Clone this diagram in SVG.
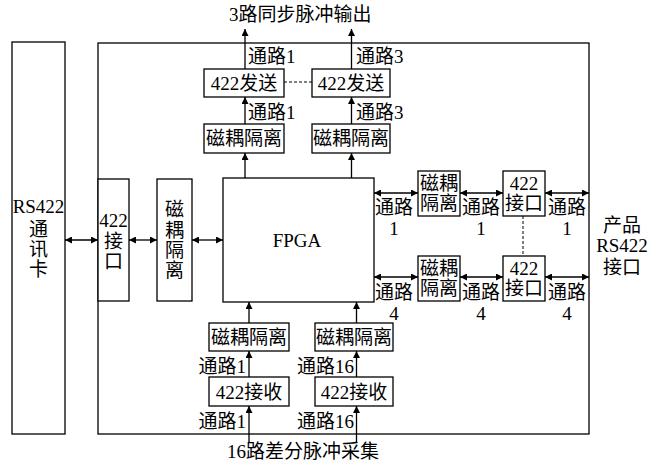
<svg xmlns="http://www.w3.org/2000/svg" width="654" height="464" viewBox="0 0 654 464">
<defs>
<marker id="ah" viewBox="0 0 10 10" refX="10" refY="5" markerWidth="7" markerHeight="7" markerUnits="userSpaceOnUse" orient="auto-start-reverse">
<path d="M0,0 L10,5 L0,10 z" fill="#000"/>
</marker>
<style>
rect{fill:#fff;stroke:#000;stroke-width:1.3}
line{stroke:#000;stroke-width:1.3}
.a{marker-end:url(#ah)}
.b{marker-start:url(#ah);marker-end:url(#ah)}
.d{stroke-dasharray:3 2;stroke-width:1}
text{font-family:"Liberation Serif","Noto Sans CJK SC",serif;font-size:19px;fill:#000}
.c{text-anchor:middle}
.e{text-anchor:end}
</style>
</defs>
<rect x="0" y="0" width="654" height="464" style="stroke:none"/>
<g id="main"><rect x="98" y="43" width="491" height="391"/></g>
<g id="card"><rect x="12" y="42" width="53" height="392"/>
<text class="c" x="38.5" y="213">RS422</text><text class="c" x="38.5" y="236">通</text><text class="c" x="38.5" y="256">讯</text><text class="c" x="38.5" y="276">卡</text></g>
<g id="if-left"><rect x="98" y="179" width="31" height="122"/>
<text class="c" x="113.5" y="227">422</text><text class="c" x="113.5" y="248">接</text><text class="c" x="113.5" y="268">口</text></g>
<g id="iso-left"><rect x="157" y="179" width="35" height="122"/>
<text class="c" x="174.5" y="216">磁</text><text class="c" x="174.5" y="237">耦</text><text class="c" x="174.5" y="257">隔</text><text class="c" x="174.5" y="277">离</text></g>
<g id="fpga"><rect x="223" y="178" width="151" height="124"/><text class="c" x="297" y="247">FPGA</text></g>
<g id="tx1"><rect x="204" y="69" width="80" height="28"/><text class="c" x="244" y="90">422发送</text></g>
<g id="tx3"><rect x="312" y="69" width="78" height="28"/><text class="c" x="351" y="90">422发送</text></g>
<g id="isot1"><rect x="204" y="124" width="80" height="29"/><text class="c" x="244" y="145">磁耦隔离</text></g>
<g id="isot3"><rect x="312" y="124" width="78" height="29"/><text class="c" x="351" y="145">磁耦隔离</text></g>
<g id="isob1"><rect x="209" y="323" width="80" height="28"/><text class="c" x="249" y="344">磁耦隔离</text></g>
<g id="isob16"><rect x="315" y="323" width="78" height="28"/><text class="c" x="354" y="344">磁耦隔离</text></g>
<g id="rx1"><rect x="209" y="377" width="80" height="29"/><text class="c" x="249" y="399">422接收</text></g>
<g id="rx16"><rect x="315" y="377" width="78" height="29"/><text class="c" x="354" y="399">422接收</text></g>
<g id="isor1"><rect x="418" y="171" width="42" height="45"/><text class="c" x="439" y="190">磁耦</text><text class="c" x="439" y="210">隔离</text></g>
<g id="ifr1"><rect x="503" y="171" width="42" height="45"/><text class="c" x="524" y="190">422</text><text class="c" x="524" y="210">接口</text></g>
<g id="isor4"><rect x="418" y="256" width="42" height="45"/><text class="c" x="439" y="275">磁耦</text><text class="c" x="439" y="295">隔离</text></g>
<g id="ifr4"><rect x="503" y="256" width="42" height="45"/><text class="c" x="524" y="275">422</text><text class="c" x="524" y="295">接口</text></g>
<g id="connectors">
<line class="b" x1="65" y1="240" x2="98" y2="240"/>
<line class="b" x1="129" y1="240" x2="157" y2="240"/>
<line class="b" x1="192" y1="240" x2="223" y2="240"/>
<line class="a" x1="245" y1="178" x2="245" y2="153"/>
<line class="a" x1="351.5" y1="178" x2="351.5" y2="153"/>
<line class="a" x1="245" y1="124" x2="245" y2="97"/>
<line class="a" x1="351.5" y1="124" x2="351.5" y2="97"/>
<line class="a" x1="245" y1="69" x2="245" y2="29"/>
<line class="a" x1="351.5" y1="69" x2="351.5" y2="29"/>
<line class="d" x1="284" y1="82" x2="312" y2="82"/>
<line class="a" x1="249" y1="323" x2="249" y2="302"/>
<line class="a" x1="356.5" y1="323" x2="356.5" y2="302"/>
<line class="a" x1="249" y1="377" x2="249" y2="351"/>
<line class="a" x1="356.5" y1="377" x2="356.5" y2="351"/>
<line class="a" x1="249" y1="443" x2="249" y2="406"/>
<line class="a" x1="356.5" y1="443" x2="356.5" y2="406"/>
<line class="b" x1="374" y1="193" x2="418" y2="193"/>
<line class="b" x1="460" y1="193" x2="503" y2="193"/>
<line class="b" x1="545" y1="193" x2="589" y2="193"/>
<line class="b" x1="374" y1="277" x2="418" y2="277"/>
<line class="b" x1="460" y1="277" x2="503" y2="277"/>
<line class="b" x1="545" y1="277" x2="589" y2="277"/>
<line class="d" x1="523" y1="216" x2="523" y2="256"/>
</g>
<g id="labels">
<text x="229" y="21">3路同步脉冲输出</text>
<text x="248" y="63">通路1</text>
<text x="356" y="63">通路3</text>
<text x="248" y="119">通路1</text>
<text x="356" y="119">通路3</text>
<text class="e" x="246" y="373">通路1</text>
<text class="e" x="354" y="373">通路16</text>
<text class="e" x="246" y="428">通路1</text>
<text class="e" x="354" y="428">通路16</text>
<text x="227" y="458">16路差分脉冲采集</text>
<text class="c" x="394" y="214">通路</text><text class="c" x="394" y="235">1</text>
<text class="c" x="481" y="214">通路</text><text class="c" x="481" y="235">1</text>
<text class="c" x="567" y="214">通路</text><text class="c" x="567" y="235">1</text>
<text class="c" x="394" y="299">通路</text><text class="c" x="394" y="320">4</text>
<text class="c" x="481" y="299">通路</text><text class="c" x="481" y="320">4</text>
<text class="c" x="567" y="299">通路</text><text class="c" x="567" y="320">4</text>
<text class="c" x="622" y="232">产品</text>
<text class="c" x="622" y="252">RS422</text>
<text class="c" x="622" y="274">接口</text>
</g>
</svg>
